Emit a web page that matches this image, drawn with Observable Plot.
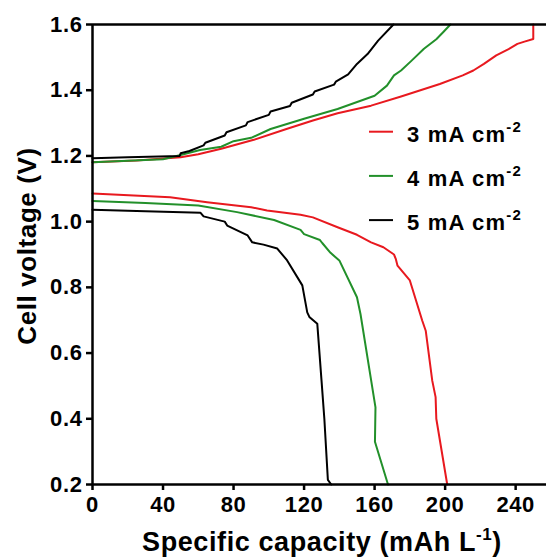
<!DOCTYPE html>
<html><head><meta charset="utf-8">
<script src="https://cdn.jsdelivr.net/npm/d3@7"></script>
<script src="https://cdn.jsdelivr.net/npm/@observablehq/plot@0.6"></script>
<style>
body{margin:0;background:#fff;}
#wrap{position:relative;width:546px;height:557px;overflow:hidden;}
#wrap svg text{letter-spacing:0.6px;}
#wrap svg text.legend{letter-spacing:1.2px;}
</style></head><body><div id="wrap"></div>
<script>
// ---- data ----
const xTicks = [0, 40, 80, 120, 160, 200, 240];
const yTicks = [0.2, 0.4, 0.6, 0.8, 1.0, 1.2, 1.4, 1.6];
const seriesLabels = ["3 mA cm", "4 mA cm", "5 mA cm"];
const seriesSup = ["-2", "-2", "-2"];
const seriesColors = ["#e8191f", "#22902a", "#000000"];
const xTitle = "Specific capacity (mAh L";
const xTitleSup = "-1";
const yTitle = "Cell voltage (V)";

// [capacity mAh/L, voltage V]
const charge3 = [[0,1.181],[25,1.186],[50,1.196],[60,1.205],[73,1.222],[91.5,1.249],[110,1.282],[125,1.308],[139,1.33],[158,1.353],[175,1.381],[197,1.419],[210,1.445],[216,1.46],[222,1.48],[229,1.506],[236,1.525],[241,1.541],[245,1.548],[250,1.556],[250,1.6]];
const charge4 = [[0,1.181],[20,1.185],[40,1.19],[50,1.203],[61,1.218],[73,1.228],[80,1.245],[90,1.255],[101,1.282],[120,1.313],[139,1.343],[160,1.383],[167,1.414],[171,1.445],[175,1.46],[181,1.49],[188,1.526],[195,1.555],[199,1.577],[203,1.6]];
const charge5 = [[0,1.193],[20,1.196],[49.5,1.2],[50,1.208],[55,1.215],[63,1.232],[64,1.24],[75,1.262],[76,1.272],[87,1.293],[88,1.303],[100,1.325],[101,1.335],[112,1.352],[113,1.362],[125,1.387],[126,1.396],[137,1.417],[138,1.426],[145,1.448],[150,1.48],[156,1.51],[162,1.551],[170.7,1.6]];
const discharge3 = [[0,1.086],[44,1.074],[65,1.059],[90,1.044],[99,1.034],[118,1.021],[125,1.013],[139,0.983],[150,0.96],[158,0.937],[165,0.922],[171,0.9],[172,0.887],[173,0.866],[180,0.821],[187,0.699],[189,0.668],[192.7,0.516],[194.6,0.466],[195,0.4],[201.2,0.2]];
const discharge4 = [[0,1.063],[30,1.057],[60,1.049],[82,1.029],[103,1.005],[118,0.975],[120,0.962],[129,0.944],[130.3,0.935],[135,0.905],[140,0.882],[150,0.77],[152,0.719],[160.5,0.435],[160.2,0.33],[167.6,0.2]];
const discharge5 = [[0,1.036],[30,1.032],[61.3,1.027],[63,1.016],[75,1.0],[76.4,0.988],[88,0.958],[90.6,0.937],[97,0.93],[104.8,0.918],[110.4,0.882],[119,0.806],[121.8,0.724],[123,0.71],[127.5,0.689],[129.9,0.516],[131.5,0.4],[133.5,0.214],[135.4,0.2]];

const curves = [
  {s:0, pts:charge3}, {s:0, pts:discharge3},
  {s:1, pts:charge4}, {s:1, pts:discharge4},
  {s:2, pts:charge5}, {s:2, pts:discharge5}
];

const font = '"Liberation Sans", Arial, sans-serif';

const plot = Plot.plot({
  width: 546, height: 557,
  marginLeft: 92, marginRight: 0, marginTop: 24, marginBottom: 73,
  x: {domain: [0, 257.5]},
  y: {domain: [0.2, 1.6]},
  style: {fontFamily: font, fontWeight: "bold", color: "#000", background: "#fff", overflow: "visible"},
  marks: [
    ...curves.map(c => Plot.line(c.pts, {x: d => d[0], y: d => d[1], stroke: seriesColors[c.s], strokeWidth: 2})),
    Plot.axisX({ticks: xTicks, tickSize: 6, tickPadding: 6, fontSize: 22, fontWeight: "bold", strokeWidth: 2.5, label: null, tickFormat: d3.format("d")}),
    Plot.axisY({ticks: yTicks, tickSize: 6, tickPadding: 4, fontSize: 22, fontWeight: "bold", strokeWidth: 2.5, label: null, tickFormat: d3.format(".1f")}),
    Plot.ruleX([0], {stroke: "#000", strokeWidth: 2.5}),
    Plot.ruleY([0.2], {stroke: "#000", strokeWidth: 2.5}),
    Plot.ruleY([1.6], {stroke: "#000", strokeWidth: 2.5})
  ]
});
document.getElementById("wrap").appendChild(plot);

const svg = d3.select(plot);
// y title
svg.append("text")
  .attr("transform", "translate(36,246) rotate(-90)")
  .attr("text-anchor", "middle")
  .attr("font-size", 26).attr("font-weight", "bold").attr("font-family", font).attr("fill", "#000")
  .text(yTitle);
// x title
const xt = svg.append("text")
  .attr("x", 322).attr("y", 551)
  .attr("text-anchor", "middle")
  .attr("font-size", 27).attr("font-weight", "bold").attr("font-family", font).attr("fill", "#000");
xt.append("tspan").text(xTitle);
xt.append("tspan").attr("dy", -11).attr("font-size", 17).text(xTitleSup);
xt.append("tspan").attr("dy", 11).text(")");

// legend
seriesLabels.forEach((lab, i) => {
  const cy = 131.7 + i * 44.2;
  svg.append("line").attr("x1", 369).attr("x2", 393).attr("y1", cy).attr("y2", cy)
    .attr("stroke", seriesColors[i]).attr("stroke-width", 2);
  const t = svg.append("text").attr("class", "legend").attr("x", 407).attr("y", cy + 10)
    .attr("text-anchor", "start")
    .attr("font-size", 22).attr("font-weight", "bold").attr("font-family", font).attr("fill", "#000");
  t.append("tspan").text(lab);
  t.append("tspan").attr("dy", -10).attr("font-size", 15).text(seriesSup[i]);
});
</script>
</body></html>
